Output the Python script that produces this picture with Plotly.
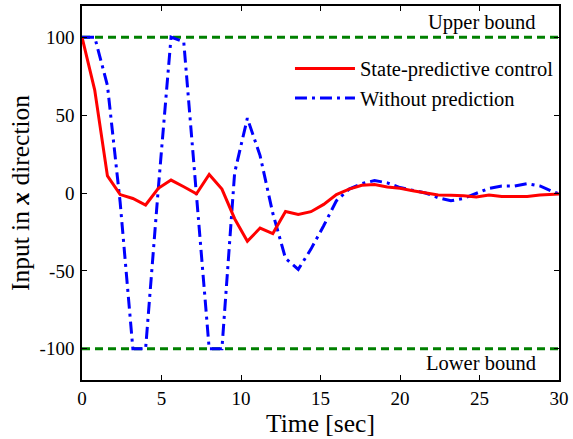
import plotly.graph_objects as go

dt = 0.8
red_vals = [100, 66, 11, -1, -3.5, -7.7, 3, 8.3, 4, -0.5, 11.9, 2.5, -16.5, -31, -22.5,
            -26, -11.9, -13.8, -12, -7.3, -1, 2.5, 5, 5.5, 3.8, 3, 1.5, 0, -1.3, -1.5,
            -1.8, -2.6, -1.3, -2.3, -2.3, -2.3, -1.3, -1, -0.5]
blue_vals = [100, 100, 69, -6, -100, -100, 3, 100, 97, -2, -100, -100, 13, 48, 24,
             -13, -42, -49, -36, -21, -5, 2.5, 6, 8, 6.5, 3.5, 1.5, 0, -3, -5,
             -3.5, -0.5, 3, 4.5, 4.5, 6, 4.5, 1, -2]
t_red = [round(i * dt, 2) for i in range(len(red_vals))]
t_blue = [round(i * dt, 2) for i in range(len(blue_vals))]
bound_x = [0, 30]
upper = [100, 100]
lower = [-100, -100]
xticks = [0, 5, 10, 15, 20, 25, 30]
yticks = [-100, -50, 0, 50, 100]

font = "Liberation Serif"

fig = go.Figure()
fig.add_trace(go.Scatter(x=bound_x, y=upper, mode="lines", showlegend=False,
                         line=dict(color="rgb(0,128,0)", width=3, dash="8px,5px")))
fig.add_trace(go.Scatter(x=bound_x, y=lower, mode="lines", showlegend=False,
                         line=dict(color="rgb(0,128,0)", width=3, dash="8px,5px")))
fig.add_trace(go.Scatter(x=t_blue, y=blue_vals, mode="lines", name="Without prediction",
                         legendgroup="b", legendrank=2,
                         line=dict(color="rgb(0,0,255)", width=3, dash="12px,5px,3px,5px")))
fig.add_trace(go.Scatter(x=t_red, y=red_vals, mode="lines", name="State-predictive control",
                         legendgroup="a", legendrank=1,
                         line=dict(color="rgb(255,0,0)", width=3)))

fig.add_annotation(x=28.65, y=109.5, text="Upper bound", showarrow=False, xanchor="right",
                   yanchor="middle", font=dict(family=font, size=20.5, color="black"))
fig.add_annotation(x=28.65, y=-109, text="Lower bound", showarrow=False, xanchor="right",
                   yanchor="middle", font=dict(family=font, size=20.5, color="black"))

axis_common = dict(showline=True, linecolor="black", linewidth=1.5, mirror="ticks",
                   ticks="inside", ticklen=5, tickwidth=1, tickcolor="black",
                   showgrid=False, zeroline=False,
                   tickfont=dict(family=font, size=19, color="black"))

fig.update_xaxes(range=[0, 30], tickvals=xticks, ticktext=[str(v) for v in xticks],
                 title=dict(text="Time [sec]", font=dict(family=font, size=25.5, color="black"),
                            standoff=2),
                 **axis_common)
fig.update_yaxes(range=[-120, 120], tickvals=yticks, ticktext=[str(v) for v in yticks],
                 title=dict(text="Input in <b><i>x</i></b> direction",
                            font=dict(family=font, size=25.5, color="black"), standoff=3),
                 ticklabelstandoff=2,
                 **axis_common)

fig.update_layout(
    width=573, height=439,
    margin=dict(l=82, r=11, t=4, b=59),
    paper_bgcolor="white", plot_bgcolor="white",
    font=dict(family=font),
    legend=dict(x=0.436, y=0.886, xanchor="left", yanchor="top", bgcolor="rgba(0,0,0,0)",
                font=dict(family=font, size=20.5, color="black"), itemwidth=60,
                tracegroupgap=9, traceorder="normal"),
)

fig.write_html("out.html")
